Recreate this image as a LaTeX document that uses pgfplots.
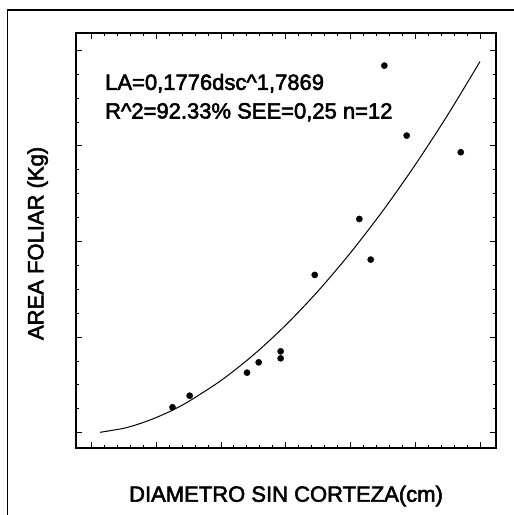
\documentclass[border=0pt]{standalone}
\usepackage{pgfplots}
\pgfplotsset{compat=1.18}
\usepackage{fontspec}
\setmainfont[FakeBold=2.5]{Liberation Sans}
\begin{document}
\begin{tikzpicture}[x=1pt,y=1pt]
\path[use as bounding box] (0,0) rectangle (514,515);
\draw[line width=1.6pt] (7.5,0) -- (7.5,505) -- (514,505);
\begin{axis}[
  at={(76pt,67pt)}, anchor=south west,
  scale only axis, width=420pt, height=415pt,
  xmin=-0.236, xmax=6.245, ymin=-0.16, ymax=4.18,
  xtick={0,1,2,3,4,5,6}, ytick={0,1,2,3,4},
  minor x tick num=4, minor y tick num=3,
  xticklabels={}, yticklabels={},
  tick align=inside,
  major tick length=6pt, minor tick length=3pt,
  every tick/.style={black, line width=0.8pt},
  axis line style={line width=1.1pt},
  label style={font=\fontsize{22}{26}\selectfont},
  xlabel={DIAMETRO SIN CORTEZA(cm)},
  ylabel={AREA FOLIAR (Kg)},
  xlabel style={at={(axis description cs:0.5,0)}, anchor=base, yshift=-53.7pt},
  ylabel style={at={(axis description cs:-0.0779,0.493)}, anchor=base, rotate=0},
  clip=false,
]
\addplot[only marks, mark=*, mark size=3.1pt, black] coordinates {
 (1.253,0.266) (1.518,0.387) (2.403,0.628) (2.583,0.736) (2.922,0.778)
 (2.922,0.851) (3.448,1.650) (4.136,2.235) (4.312,1.810) (4.522,3.839)
 (4.867,3.107) (5.701,2.933)
};
\addplot[smooth, black, line width=1pt] coordinates {
 (0.134,0.004) (0.5,0.046) (0.75,0.095) (1,0.158) (1.25,0.235) (1.5,0.326)
 (2,0.545) (2.5,0.812) (3,1.125) (3.5,1.482) (4,1.882) (4.5,2.322)
 (5,2.803) (5.5,3.324) (5.998,3.881)
};
\node[anchor=base west, inner sep=0, font=\fontsize{22}{26}\selectfont] at (rel axis cs:0.069,0.863) {LA=0,1776dsc\textasciicircum1,7869};
\node[anchor=base west, inner sep=0, font=\fontsize{22}{26}\selectfont] at (rel axis cs:0.069,0.794) {R\textasciicircum2=92.33\% SEE=0,25 n=12};
\end{axis}
\end{tikzpicture}
\end{document}
